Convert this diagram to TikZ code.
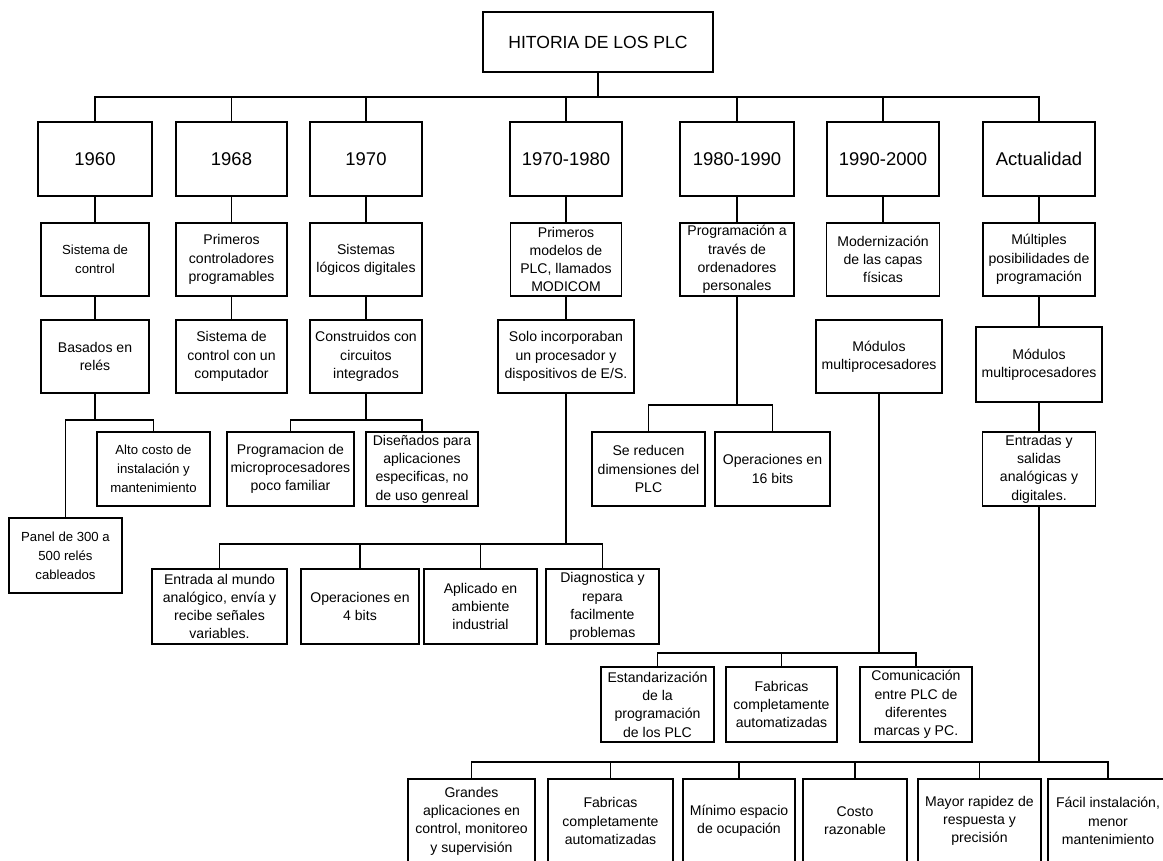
\documentclass[tikz,border=0pt]{standalone}
\usepackage{fontspec}
\setmainfont{Liberation Sans}
\usepackage{tikz}

\begin{document}
\begin{tikzpicture}[
  x=0.02cm, y=-0.02cm,
  box/.style={rectangle, draw, line width=0.75pt, align=center, inner sep=1pt,
              minimum width=2.24cm, minimum height=1.48cm,
              font=\fontsize{8}{10.4}\selectfont},
  yearbox/.style={box, font=\fontsize{10.5}{12}\selectfont},
  tiny box/.style={font=\fontsize{7.5}{10.8}\selectfont},
  sz/.style 2 args={minimum width=#1*0.02cm, minimum height=#2*0.02cm},
  link/.style={line width=0.75pt},
]
  \useasboundingbox (0,0) rectangle (1163,860);

  % title and periods
  \node[yearbox, sz={230}{60}, font=\fontsize{10}{12}\selectfont] (T) at (598,42) {HITORIA DE LOS PLC};
  \node[yearbox, sz={114}{74}] (Y60)   at (95,159)   {1960};
  \node[yearbox, sz={111}{74}] (Y68)   at (231.5,159) {1968};
  \node[yearbox, sz={112}{74}] (Y70)   at (366,159)  {1970};
  \node[yearbox, sz={112}{74}] (Y7080) at (566,159)  {1970-1980};
  \node[yearbox, sz={114}{74}] (Y8090) at (737,159)  {1980-1990};
  \node[yearbox, sz={112}{74}] (Y9000) at (883,159)  {1990-2000};
  \node[yearbox, sz={112}{74}] (YAct)  at (1039,159) {Actualidad};

  % second row
  \node[box, tiny box, sz={108}{73}] (A60) at (95,259.5) {Sistema de\\control};
  \node[box, sz={111}{73}] (A68)   at (231.5,259.5) {Primeros\\controladores\\programables};
  \node[box, sz={112}{73}] (A70)   at (366,259.5)  {Sistemas\\lógicos digitales};
  \node[box, sz={111}{73}] (A7080) at (566,259.5)  {Primeros\\modelos de\\PLC, llamados\\MODICOM};
  \node[box, sz={114}{73}] (A8090) at (737,259.5)  {Programación a\\través de\\ordenadores\\personales};
  \node[box, sz={113}{73}] (A9000) at (883,259.5)  {Modernización\\de las capas\\físicas};
  \node[box, sz={112}{73}] (AAct)  at (1039,259.5) {Múltiples\\posibilidades de\\programación};

  % third row
  \node[box, sz={108}{73}] (B60)   at (95,356.5)   {Basados en\\relés};
  \node[box, sz={111}{73}] (B68)   at (231.5,356.5) {Sistema de\\control con un\\computador};
  \node[box, sz={112}{73}] (B70)   at (366,356.5)  {Construidos con\\circuitos\\integrados};
  \node[box, sz={136}{73}] (B7080) at (566,356.5)  {Solo incorporaban\\un procesador y\\dispositivos de E/S.};
  \node[box, sz={126}{73}] (B9000) at (879,356.5)  {Módulos\\multiprocesadores};
  \node[box, sz={126}{75}] (BAct)  at (1039,364.5) {Módulos\\multiprocesadores};

  % fourth row
  \node[box, tiny box, sz={113}{74}] (C60) at (153.5,469) {Alto costo de\\instalación y\\mantenimiento};
  \node[box, sz={127}{74}] (C70a)  at (290.5,469) {Programacion de\\microprocesadores\\poco familiar};
  \node[box, sz={112}{74}] (C70b)  at (422,469)   {Diseñados para\\aplicaciones\\especificas, no\\de uso genreal};
  \node[box, sz={113}{74}] (C80a)  at (648.5,469) {Se reducen\\dimensiones del\\PLC};
  \node[box, sz={115}{74}] (C80b)  at (772.5,469) {Operaciones en\\16 bits};
  \node[box, sz={113}{74}] (CAct)  at (1039,469)  {Entradas y\\salidas\\analógicas y\\digitales.};
  \node[box, tiny box, sz={113}{75}] (D60) at (65.5,555.5) {Panel de 300 a\\500 relés\\cableados};

  % 1970-1980 details
  \node[box, sz={135}{75}] (E1) at (219.5,606.5) {Entrada al mundo\\analógico, envía y\\recibe señales\\variables.};
  \node[box, sz={118}{75}] (E2) at (360,606.5)   {Operaciones en\\4 bits};
  \node[box, sz={113}{75}] (E3) at (480.5,606.5) {Aplicado en\\ambiente\\industrial};
  \node[box, sz={113}{75}] (E4) at (602.5,606.5) {Diagnostica y\\repara\\facilmente\\problemas};

  % 1990-2000 details
  \node[box, sz={113}{75}] (F1) at (657.5,704.5) {Estandarización\\de la\\programación\\de los PLC};
  \node[box, sz={111}{75}] (F2) at (781.5,704.5) {Fabricas\\completamente\\automatizadas};
  \node[box, sz={112}{75}] (F3) at (916,704.5)   {Comunicación\\entre PLC de\\diferentes\\marcas y PC.};

  % present day details
  \node[box, sz={127}{84}] (G1) at (471.5,821) {Grandes\\aplicaciones en\\control, monitoreo\\y supervisión};
  \node[box, sz={125}{84}] (G2) at (610.5,821) {Fabricas\\completamente\\automatizadas};
  \node[box, sz={112}{84}] (G3) at (739,821)   {Mínimo espacio\\de ocupación};
  \node[box, sz={104}{84}] (G4) at (855,821)   {Costo\\razonable};
  \node[box, sz={123}{84}] (G5) at (979.5,821) {Mayor rapidez de\\respuesta y\\precisión};
  \node[box, sz={120}{84}] (G6) at (1108,821)  {Fácil instalación,\\menor\\mantenimiento};

  % junctions
  \coordinate (b0)    at (598,97);
  \coordinate (b60)   at (95,420);
  \coordinate (b70)   at (366,420);
  \coordinate (b7080) at (566,544);
  \coordinate (b8090) at (737,405);
  \coordinate (b9000) at (879,653);
  \coordinate (bAct)  at (1039,762);

  \draw[link] (T) -- (b0);
  \foreach \y in {Y60,Y68,Y70,Y7080,Y8090,Y9000,YAct}
    \draw[link] (b0) -| (\y);

  \draw[link] (Y60) -- (A60) -- (B60) -- (b60);
  \draw[link] (b60) -| (C60);
  \draw[link] (b60) -| (D60);
  \draw[link] (Y68) -- (A68) -- (B68);
  \draw[link] (Y70) -- (A70) -- (B70) -- (b70);
  \draw[link] (b70) -| (C70a);
  \draw[link] (b70) -| (C70b);
  \draw[link] (Y7080) -- (A7080) -- (B7080) -- (b7080);
  \foreach \e in {E1,E2,E3,E4}
    \draw[link] (b7080) -| (\e);
  \draw[link] (Y8090) -- (A8090) -- (b8090);
  \draw[link] (b8090) -| (C80a);
  \draw[link] (b8090) -| (C80b);
  \draw[link] (Y9000) -- (A9000);
  \draw[link] (B9000) -- (b9000);
  \foreach \f in {F1,F2,F3}
    \draw[link] (b9000) -| (\f);
  \draw[link] (YAct) -- (AAct) -- (BAct) -- (CAct) -- (bAct);
  \foreach \g in {G1,G2,G3,G4,G5,G6}
    \draw[link] (bAct) -| (\g);
\end{tikzpicture}
\end{document}
